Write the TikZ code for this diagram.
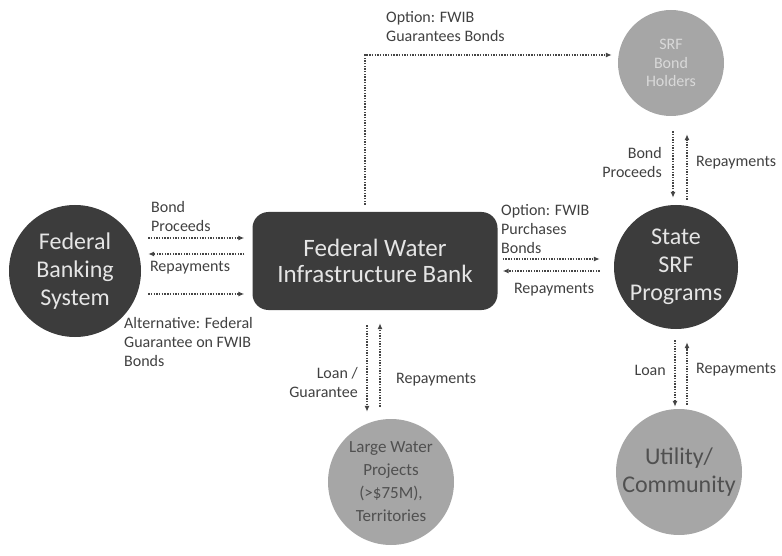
\documentclass[tikz,border=0pt]{standalone}
\usepackage{fontspec}
\setmainfont{Carlito}
\usetikzlibrary{arrows.meta}
\definecolor{darkfill}{HTML}{3C3C3C}
\definecolor{lightfill}{HTML}{A6A6A6}
\definecolor{darktext}{HTML}{505050}
\definecolor{flowgray}{HTML}{454545}

\begin{document}
\begin{tikzpicture}[x=1pt,y=-1pt,
    big/.style={font=\fontsize{24}{28}\selectfont, align=center},
    darkcirc/.style={circle, fill=darkfill, text=white!90!black, inner sep=0pt},
    lightcirc/.style={circle, fill=lightfill, text=darktext, inner sep=0pt},
    lbl/.style={font=\fontsize{16}{19}\selectfont, text=black!75, inner sep=0pt},
    flow/.style={draw=flowgray, line width=1.6pt, dash pattern=on 1.4pt off 1.3pt,
      -{Latex[length=6pt,width=5pt]}}]
  \useasboundingbox (0,0) rectangle (782,556);

  \node[darkcirc, big, minimum size=132pt] (fbs) at (75,271) {Federal\\Banking\\System};
  \node[fill=darkfill, rounded corners=16pt, minimum width=245pt, minimum height=98pt,
    text=white!90!black, font=\fontsize{25}{26}\selectfont, align=center] (fwib) at (375,261)
    {Federal Water\\Infrastructure Bank};
  \node[lightcirc, minimum size=106pt, text=white!85!black,
    font=\fontsize{16}{18.5}\selectfont, align=center] (holders) at (671,63) {SRF\\Bond\\Holders};
  \node[darkcirc, big, minimum size=124pt] (srf) at (676,267) {State\\SRF\\Programs};
  \node[lightcirc, minimum size=126pt, font=\fontsize{17}{23}\selectfont, align=center] (water)
    at (391,482) {Large Water\\Projects\\(>\$75M),\\Territories};
  \node[lightcirc, big, minimum size=126pt] (utility) at (679,472) {Utility/\\Community};

  \coordinate (lrow1) at (0,238);
  \coordinate (lrow2) at (0,254);
  \coordinate (lrow3) at (0,294);
  \coordinate (rrow1) at (0,259);
  \coordinate (rrow2) at (0,271);
  \coordinate (tcol1) at (673,0);
  \coordinate (tcol2) at (687,0);
  \coordinate (mcol1) at (367,0);
  \coordinate (mcol2) at (380,0);
  \coordinate (bcol1) at (675,0);
  \coordinate (bcol2) at (687,0);
  \coordinate (gtop) at (365,55);

  \draw[flow, shorten <=7pt, shorten >=6pt] (fwib.north -| gtop) |- (holders.west |- gtop);

  \draw[flow, shorten <=7pt, shorten >=8pt] (fbs.east |- lrow1) -- (fwib.west |- lrow1);
  \draw[flow, shorten <=8pt, shorten >=7pt] (fwib.west |- lrow2) -- (fbs.east |- lrow2);
  \draw[flow, shorten <=7pt, shorten >=8pt] (fbs.east |- lrow3) -- (fwib.west |- lrow3);

  \draw[flow, shorten <=5pt, shorten >=14pt] (fwib.east |- rrow1) -- (srf.west |- rrow1);
  \draw[flow, shorten <=14pt, shorten >=5pt] (srf.west |- rrow2) -- (fwib.east |- rrow2);

  \draw[flow, shorten <=15pt, shorten >=7pt] (holders.south -| tcol1) -- (srf.north -| tcol1);
  \draw[flow, shorten <=5pt, shorten >=18pt] (srf.north -| tcol2) -- (holders.south -| tcol2);

  \draw[flow, shorten <=15pt, shorten >=7pt] (fwib.south -| mcol1) -- (water.north -| mcol1);
  \draw[flow, shorten <=12pt, shorten >=13pt] (water.north -| mcol2) -- (fwib.south -| mcol2);

  \draw[flow, shorten <=11pt, shorten >=2pt] (srf.south -| bcol1) -- (utility.north -| bcol1);
  \draw[flow, shorten <=4pt, shorten >=13pt] (utility.north -| bcol2) -- (srf.south -| bcol2);

  \node[lbl, anchor=west, align=left] (optg) at (386,27) {Option: FWIB\\Guarantees Bonds};
  \node[lbl, anchor=west, align=left] (bpl) at (151,217) {Bond\\Proceeds};
  \node[lbl] (repl) at (190,268) {Repayments};
  \node[lbl, anchor=west, align=left] (alt) at (124,342) {Alternative: Federal\\Guarantee on FWIB\\Bonds};
  \node[lbl, anchor=west, align=left] (optp) at (501,229) {Option: FWIB\\Purchases\\Bonds};
  \node[lbl] (repr) at (554,290) {Repayments};
  \node[lbl, anchor=east, align=right] (bpr) at (662,163) {Bond\\Proceeds};
  \node[lbl, anchor=west] (reph) at (696,163) {Repayments};
  \node[lbl, anchor=east, align=right] (loang) at (358,383) {Loan /\\Guarantee};
  \node[lbl, anchor=west] (repw) at (396,380) {Repayments};
  \node[lbl, anchor=east] (loan) at (666,370) {Loan};
  \node[lbl, anchor=west] (repu) at (696,370) {Repayments};
\end{tikzpicture}
\end{document}
